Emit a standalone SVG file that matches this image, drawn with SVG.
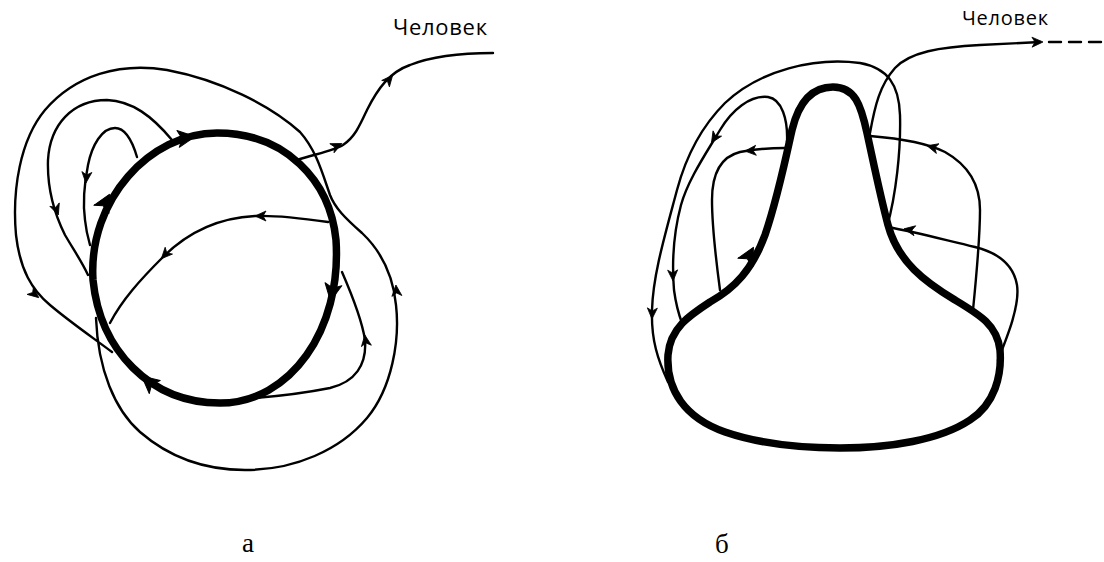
<svg xmlns="http://www.w3.org/2000/svg" xmlns:xlink="http://www.w3.org/1999/xlink" width="1104" height="562" viewBox="0 0 1104 562">
<style>
.thin{fill:none;stroke:#000;stroke-width:2.4;stroke-linecap:round}
.thick{fill:none;stroke:#000;stroke-width:7.5;stroke-linejoin:round}
.lbl{font-family:"Open Sans","DejaVu Sans",sans-serif;fill:#000}
.cap{font-family:"Liberation Serif","DejaVu Serif",serif;font-size:27px;fill:#000}
</style>
<defs>
<path id="ah" d="M1,0 L-10,-5 L-7,0 L-10,5 Z" fill="#000" stroke="#000" stroke-width="0.8" stroke-linejoin="round"/>
<path id="AH" d="M3,0 L-14,-8.5 L-10,0 L-14,8.5 Z" fill="#000" stroke="#000" stroke-width="1" stroke-linejoin="round"/>
</defs>
<rect width="1104" height="562" fill="#fff"/>

<g id="panel-a">
<g id="a-loop">
<path class="thick" d="M217,133 C285,133 330,180 336,240 C342,330 290,403 220,403 C150,403 100,350 93,280 C88,200 150,133 217,133 Z"/>
<use xlink:href="#AH" transform="translate(192,137) rotate(-8)"/>
<use xlink:href="#AH" transform="translate(108,197) rotate(-62)"/>
<use xlink:href="#AH" transform="translate(331,298) rotate(100)"/>
<use xlink:href="#AH" transform="translate(144,378) rotate(-140)"/>
</g>
<g id="a-person">
<text class="lbl" x="393" y="35" font-size="22" textLength="94">Человек</text>
</g>
<g id="a-connectors">
<path class="thin" d="M297,160 C320,153 335,150 343,145 C355,137 360,125 367,110 C378,88 390,72 410,65 C430,57 455,53 493,53"/>
<path class="thin" d="M96,318 C98,370 115,410 140,432 C170,458 205,470 245,470 C295,470 340,450 367,418 C392,388 400,340 396,305 C393,275 380,250 362,233 C345,218 335,208 330,195 C322,172 316,150 300,132 C270,105 220,80 167,70 C120,62 75,75 45,110 C20,140 12,190 16,235 C20,270 32,290 50,305 C70,322 92,337 112,352"/>
<path class="thin" d="M342,272 C352,295 362,320 365,340 C367,365 355,382 330,388 C305,393 280,396 255,398"/>
<path class="thin" d="M328,222 C300,218 275,215 255,216 C215,218 185,235 163,257 C140,280 122,300 110,323"/>
<path class="thin" d="M172,140 C152,116 132,101 107,100 C72,100 50,125 48,160 C47,190 55,215 65,235 C75,252 82,262 88,275"/>
<path class="thin" d="M137,157 C132,140 125,128 115,128 C102,128 92,145 88,165 C84,185 83,205 85,220 C86,230 88,238 90,245"/>
<use xlink:href="#ah" transform="translate(392,76) rotate(-50)"/>
<use xlink:href="#ah" transform="translate(341,144) rotate(-25)"/>
<use xlink:href="#ah" transform="translate(396,286) rotate(-95)"/>
<use xlink:href="#ah" transform="translate(38,297) rotate(40)"/>
<use xlink:href="#ah" transform="translate(365,336) rotate(-98)"/>
<use xlink:href="#ah" transform="translate(256,216) rotate(180)"/>
<use xlink:href="#ah" transform="translate(162,258) rotate(133)"/>
<use xlink:href="#ah" transform="translate(58,214) rotate(70)"/>
<use xlink:href="#ah" transform="translate(86,182) rotate(95)"/>
</g>
<text class="cap" x="242" y="552">а</text>
</g>

<g id="panel-b">
<g id="b-loop">
<path class="thick" stroke-width="6.5" d="M833,87 C810,87 798,105 792,130 C785,162 777,200 765,235 C752,270 735,288 710,302 C690,315 670,328 668,355 C666,390 685,418 725,432 C760,444 800,448 840,448 C890,448 940,440 970,420 C995,404 1002,375 1000,350 C997,325 980,315 955,300 C925,282 898,262 888,225 C880,195 874,165 867,133 C861,105 855,87 833,87 Z"/>
<use xlink:href="#AH" transform="translate(752,250) rotate(-62)"/>
</g>
<g id="b-person">
<text class="lbl" x="962" y="25" font-size="20" textLength="86">Человек</text>
</g>
<g id="b-connectors">
<path class="thin" d="M870,133 C875,105 880,85 895,68 C910,52 940,47 980,45 C1000,44 1020,43 1040,42"/>
<path class="thin" d="M1049,42 L1104,42" stroke-width="3" stroke-dasharray="12,8" stroke-linecap="butt"/>
<path class="thin" d="M998,360 C1008,335 1020,305 1017,285 C1013,262 995,252 975,247 C945,240 915,232 888,227"/>
<path class="thin" d="M973,310 C976,280 980,240 980,210 C980,185 968,165 945,152 C925,142 895,138 870,136"/>
<path class="thin" d="M887,227 C896,195 901,150 900,115 C899,85 888,68 860,63 C815,57 760,70 725,103 C700,128 685,160 677,190 C665,235 653,275 652,310 C651,340 658,360 668,382"/>
<path class="thin" d="M787,142 C788,120 782,99 768,97 C750,95 732,110 720,130 C705,155 688,180 681,205 C673,235 672,265 674,290 C676,305 679,315 682,323"/>
<path class="thin" d="M785,148 C770,148 755,149 740,152 C720,157 712,175 712,200 C712,230 716,260 720,290"/>
<use xlink:href="#ah" transform="translate(1042,42) rotate(-1)"/>
<use xlink:href="#ah" transform="translate(905,229) rotate(190)"/>
<use xlink:href="#ah" transform="translate(928,146) rotate(195)"/>
<use xlink:href="#ah" transform="translate(746,151) rotate(176)"/>
<use xlink:href="#ah" transform="translate(712,142) rotate(122)"/>
<use xlink:href="#ah" transform="translate(673,280) rotate(88)"/>
<use xlink:href="#ah" transform="translate(652,318) rotate(92)"/>
</g>
<text class="cap" x="715" y="553">б</text>
</g>
</svg>
